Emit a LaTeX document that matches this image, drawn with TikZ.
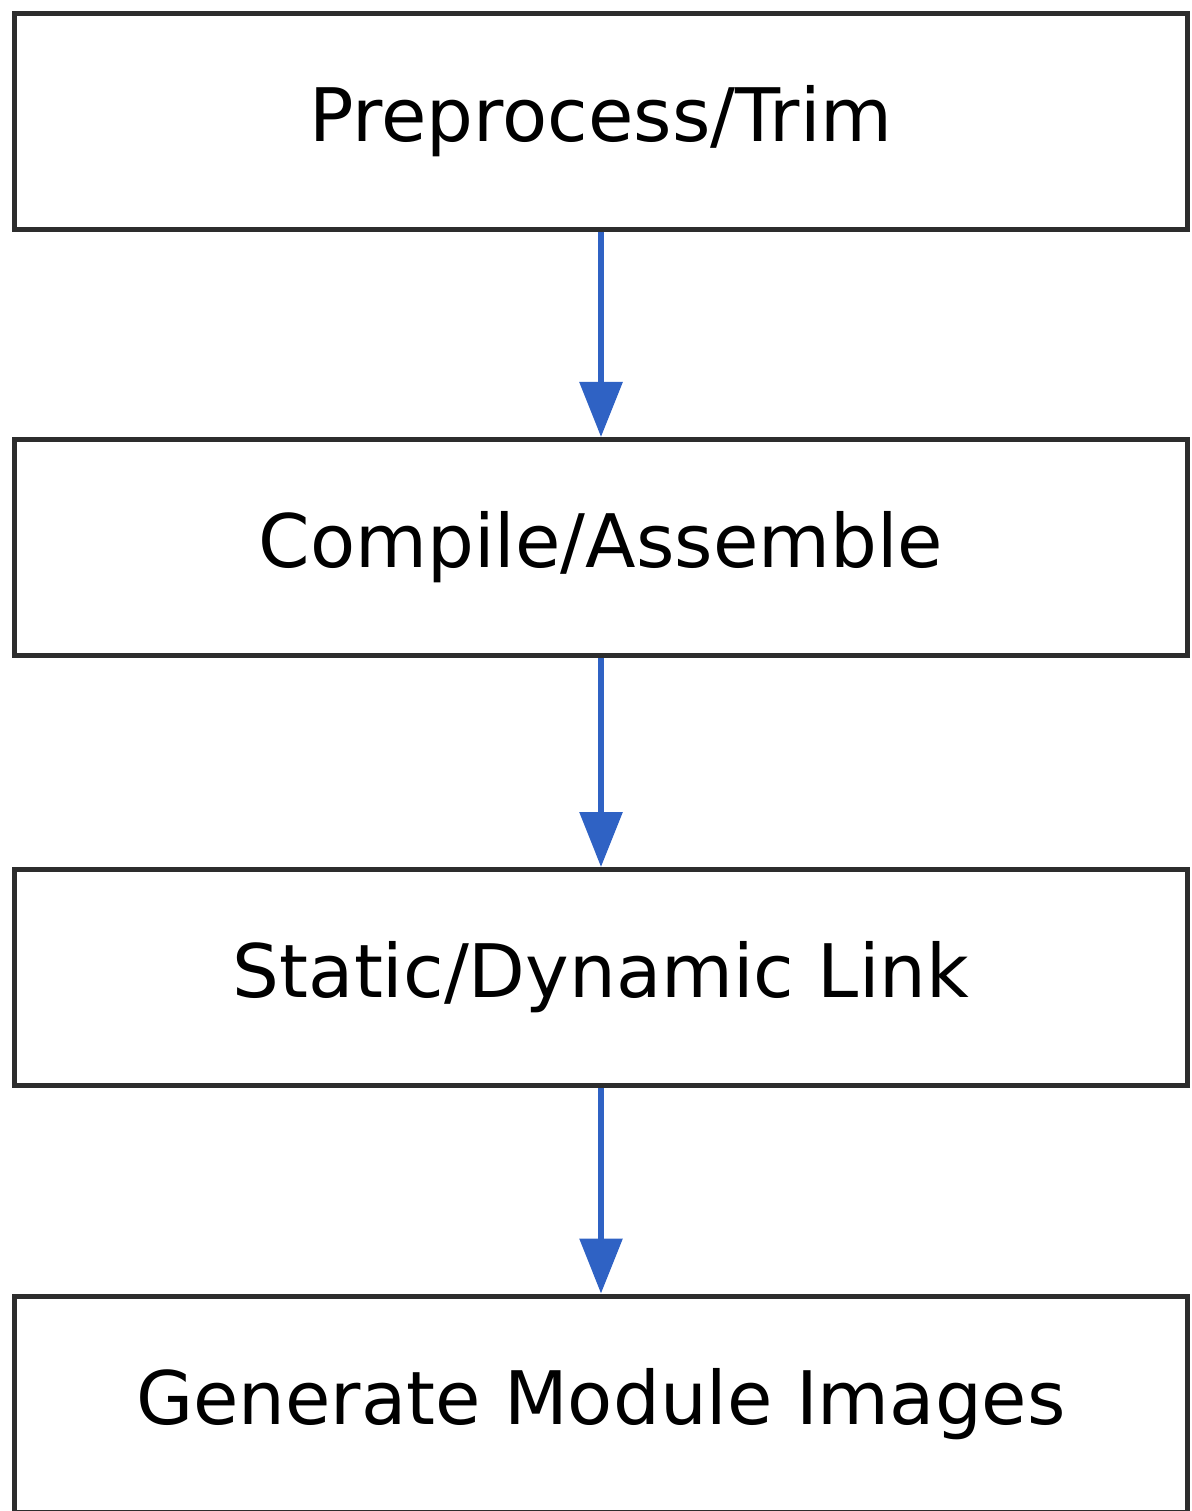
\documentclass[tikz,border=0pt]{standalone}
\usepackage{fontspec}
\setmainfont{DejaVu Sans}
\usetikzlibrary{arrows.meta}
\definecolor{arrowblue}{RGB}{47,98,196}
\definecolor{boxline}{RGB}{45,45,45}
\tikzset{
  stepbox/.style={draw=boxline, line width=0.05cm, minimum width=11.72cm, minimum height=2.16cm, inner sep=0pt, font=\fontsize{21}{25}\selectfont},
  flowarrow/.style={draw=arrowblue, line width=0.06cm, -{Triangle[width=0.42cm,length=0.55cm]}}
}
\begin{document}
\begin{tikzpicture}
\useasboundingbox (0,0) rectangle (11.91,-15.11);
\node[stepbox] (pre) at (6.01,-1.215) {Preprocess/Trim};
\node[stepbox] (comp) at (6.01,-5.475) {Compile/Assemble};
\node[stepbox] (link) at (6.01,-9.775) {Static/Dynamic Link};
\node[stepbox] (gen) at (6.01,-14.04) {Generate Module Images};
\draw[flowarrow] (pre.south) -- (comp.north);
\draw[flowarrow] (comp.south) -- (link.north);
\draw[flowarrow] (link.south) -- (gen.north);
\end{tikzpicture}
\end{document}
